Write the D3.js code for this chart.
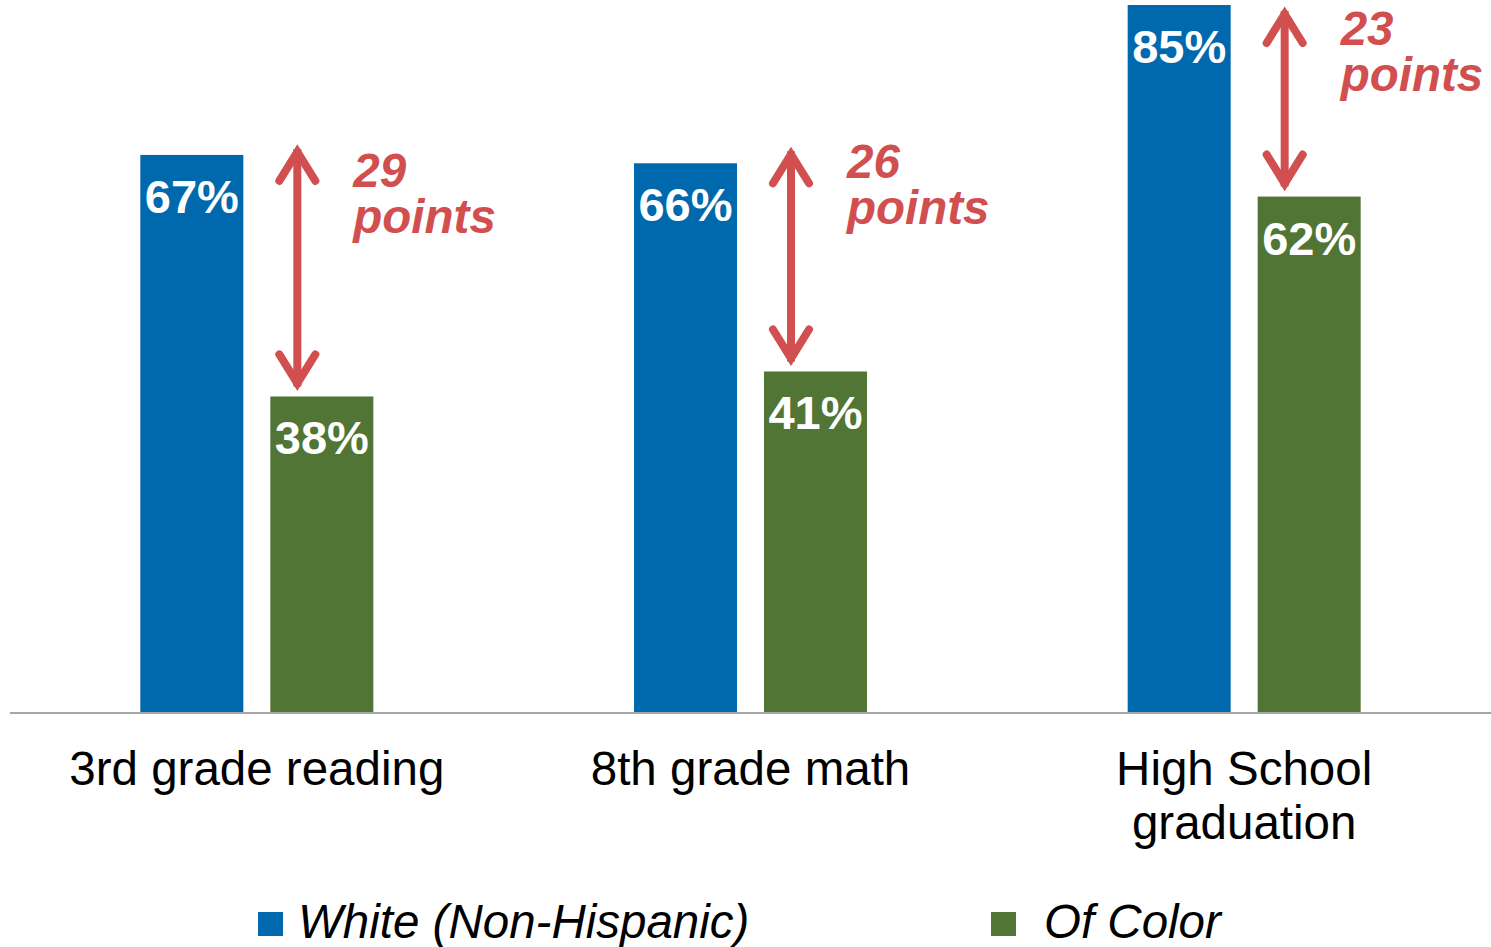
<!DOCTYPE html>
<html>
<head>
    <meta charset="utf-8" />
    <style>
        body { margin: 0; background: #fff; }
        svg { display: block; font-family: "Liberation Sans", Arial, sans-serif; }
        text.value { fill: #fff; font-weight: bold; font-size: 47px; text-anchor: middle; }
        text.cat { fill: #000; font-size: 47.5px; text-anchor: middle; }
        text.note { fill: #d14f4f; font-weight: bold; font-style: italic; font-size: 47.5px; }
        text.legend { fill: #000; font-style: italic; font-size: 47.5px; }
    </style>
    <script src="https://d3js.org/d3.v7.min.js"></script>
</head>
<body>
<script>

// data
let categories = [["3rd grade reading"], ["8th grade math"], ["High School", "graduation"]];
let white = [67, 66, 85];
let ofColor = [38, 41, 62];
let gapLabels = ["29", "26", "23"];
let seriesNames = ["White (Non-Hispanic)", "Of Color"];

// layout
let W = 1491, H = 947;
let baseY = 713;
let barW = 103, barGap = 27;
let noteDy = [32, 15, 40];   // note baseline below top of white bar
let arrowDy = [12, 18, 0];   // arrow tip above top of white bar
let colors = ["#0068ad", "#507535"];
let red = "#d14f4f";

let svg = d3.select("body")
    .append("svg")
    .attr("width", W)
    .attr("height", H);

let x = d3.scaleBand()
    .domain(d3.range(categories.length))
    .range([10, W]);

let y = d3.scaleLinear()
    .domain([0, 85.6])
    .range([baseY, 0]);

let left = i => x(i) + x.bandwidth() / 2 - barW - barGap / 2;
let right = i => x(i) + x.bandwidth() / 2 + barGap / 2;

// bars
[white, ofColor].forEach((vals, s) => {
    let xs = s === 0 ? left : right;
    svg.append("g").selectAll("rect")
        .data(vals)
        .enter()
        .append("rect")
        .attr("x", (d, i) => xs(i))
        .attr("y", d => y(d))
        .attr("width", barW)
        .attr("height", d => baseY - y(d))
        .attr("fill", colors[s]);

    svg.append("g").selectAll("text")
        .data(vals)
        .enter()
        .append("text")
        .attr("class", "value")
        .attr("x", (d, i) => xs(i) + barW / 2)
        .attr("y", d => y(d) + 58)
        .text(d => d + "%");
});

// axis line
svg.append("line")
    .attr("x1", 10).attr("x2", W)
    .attr("y1", baseY).attr("y2", baseY)
    .attr("stroke", "#a6a6a6")
    .attr("stroke-width", 2);

// category labels
categories.forEach((lines, i) => {
    let t = svg.append("text")
        .attr("class", "cat")
        .attr("x", x(i) + x.bandwidth() / 2)
        .attr("y", 785);
    lines.forEach((l, k) => {
        t.append("tspan")
            .attr("x", x(i) + x.bandwidth() / 2)
            .attr("dy", k === 0 ? 0 : 54)
            .text(l);
    });
});

// gap arrows
let arrows = svg.append("g")
    .attr("fill", "none")
    .attr("stroke", red)
    .attr("stroke-width", 8);

white.forEach((v, i) => {
    let ax = right(i) + 27;
    let top = Math.max(y(v) - arrowDy[i], 5);
    let bot = y(ofColor[i]) - 4;
    arrows.append("line")
        .attr("x1", ax).attr("x2", ax)
        .attr("y1", top + 6).attr("y2", bot - 6);
    arrows.append("polyline")
        .attr("stroke-linecap", "round")
        .attr("points", [[ax - 18, top + 38], [ax, top + 9], [ax + 18, top + 38]].join(" "));
    arrows.append("polyline")
        .attr("stroke-linecap", "round")
        .attr("points", [[ax - 18, bot - 38], [ax, bot - 9], [ax + 18, bot - 38]].join(" "));

    svg.append("text")
        .attr("class", "note")
        .attr("x", right(i) + 83)
        .attr("y", y(v) + noteDy[i])
        .text(gapLabels[i]);
    svg.append("text")
        .attr("class", "note")
        .attr("x", right(i) + 83)
        .attr("y", y(v) + noteDy[i] + 46)
        .text("points");
});

// legend
let legX = [258, 991];
let legDx = [40, 53];
seriesNames.forEach((n, s) => {
    svg.append("rect")
        .attr("x", legX[s]).attr("y", 912)
        .attr("width", 25).attr("height", 24)
        .attr("fill", colors[s]);
    svg.append("text")
        .attr("class", "legend")
        .attr("x", legX[s] + legDx[s])
        .attr("y", 938)
        .text(n);
});

</script>
</body>
</html>
